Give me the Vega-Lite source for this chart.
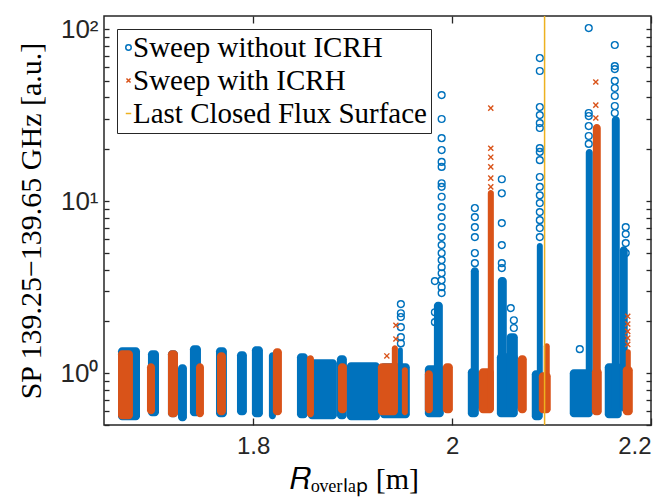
{
  "$schema": "https://vega.github.io/schema/vega-lite/v6.json",
  "width": 547,
  "height": 409,
  "autosize": "none",
  "padding": {"left": 104, "top": 16, "right": 17, "bottom": 72},
  "background": "white",
  "config": {
    "view": {"stroke": "#262626", "strokeWidth": 1.5},
    "axis": {"domain": false, "grid": false, "labelFont": "Liberation Sans", "labelColor": "#262626", "titleFont": "Liberation Serif", "titleFontWeight": "normal", "titleColor": "#000000", "ticks": true, "tickColor": "#262626", "tickOpacity": 1, "tickWidth": 1.3},
    "legend": {"orient": "top-left", "offset": 13, "padding": 4, "fillColor": "white", "strokeColor": "#262626", "labelFont": "Liberation Serif", "labelFontSize": 29, "labelColor": "#000000", "labelLimit": 500, "symbolSize": 30, "symbolStrokeWidth": 1.5, "rowPadding": 3, "labelOffset": -10, "symbolOffset": -7}
  },
  "datasets": {
    "bodies": [
      {"s": "Sweep without ICRH", "x0": 1.6641, "x1": 1.6862, "y0": 0.533, "y1": 1.416},
      {"s": "Sweep without ICRH", "x0": 1.6942, "x1": 1.7053, "y0": 0.562, "y1": 1.36},
      {"s": "Sweep without ICRH", "x0": 1.7143, "x1": 1.7244, "y0": 0.555, "y1": 1.36},
      {"s": "Sweep without ICRH", "x0": 1.7244, "x1": 1.7334, "y0": 0.526, "y1": 1.128},
      {"s": "Sweep without ICRH", "x0": 1.7364, "x1": 1.7475, "y0": 0.562, "y1": 1.455},
      {"s": "Sweep without ICRH", "x0": 1.7626, "x1": 1.7736, "y0": 0.555, "y1": 1.416},
      {"s": "Sweep without ICRH", "x0": 1.7837, "x1": 1.7937, "y0": 0.57, "y1": 1.342},
      {"s": "Sweep without ICRH", "x0": 1.7987, "x1": 1.8098, "y0": 0.555, "y1": 1.435},
      {"s": "Sweep without ICRH", "x0": 1.8158, "x1": 1.8229, "y0": 0.54, "y1": 1.325},
      {"s": "Sweep without ICRH", "x0": 1.844, "x1": 1.855, "y0": 0.547, "y1": 1.307},
      {"s": "Sweep without ICRH", "x0": 1.855, "x1": 1.8842, "y0": 0.54, "y1": 1.206},
      {"s": "Sweep without ICRH", "x0": 1.8842, "x1": 1.8942, "y0": 0.54, "y1": 1.273},
      {"s": "Sweep without ICRH", "x0": 1.8942, "x1": 1.9274, "y0": 0.533, "y1": 1.159},
      {"s": "Sweep without ICRH", "x0": 1.9274, "x1": 1.9575, "y0": 0.547, "y1": 1.143},
      {"s": "Sweep without ICRH", "x0": 1.9455, "x1": 1.9505, "y0": 0.6, "y1": 1.416},
      {"s": "Sweep without ICRH", "x0": 1.9726, "x1": 1.9917, "y0": 0.555, "y1": 1.113},
      {"s": "Sweep without ICRH", "x0": 1.9817, "x1": 1.9907, "y0": 0.6, "y1": 2.6},
      {"s": "Sweep without ICRH", "x0": 2.0158, "x1": 2.0269, "y0": 0.555, "y1": 1.069},
      {"s": "Sweep without ICRH", "x0": 2.0188, "x1": 2.0269, "y0": 0.6, "y1": 4.13},
      {"s": "Sweep without ICRH", "x0": 2.045, "x1": 2.0661, "y0": 0.555, "y1": 1.307},
      {"s": "Sweep without ICRH", "x0": 2.046, "x1": 2.055, "y0": 0.6, "y1": 3.62},
      {"s": "Sweep without ICRH", "x0": 2.055, "x1": 2.0661, "y0": 0.6, "y1": 1.708},
      {"s": "Sweep without ICRH", "x0": 2.0801, "x1": 2.0912, "y0": 0.533, "y1": 1.041},
      {"s": "Sweep without ICRH", "x0": 2.0852, "x1": 2.0912, "y0": 0.6, "y1": 5.7},
      {"s": "Sweep without ICRH", "x0": 2.1183, "x1": 2.1415, "y0": 0.555, "y1": 1.055},
      {"s": "Sweep without ICRH", "x0": 2.1344, "x1": 2.1415, "y0": 0.6, "y1": 20.05},
      {"s": "Sweep without ICRH", "x0": 2.1535, "x1": 2.1706, "y0": 0.547, "y1": 1.143},
      {"s": "Sweep without ICRH", "x0": 2.1606, "x1": 2.1686, "y0": 0.6, "y1": 31.2},
      {"s": "Sweep without ICRH", "x0": 2.1686, "x1": 2.1766, "y0": 0.6, "y1": 5.47},
      {"s": "Sweep with ICRH", "x0": 1.6641, "x1": 1.6791, "y0": 0.54, "y1": 1.36},
      {"s": "Sweep with ICRH", "x0": 1.6932, "x1": 1.7013, "y0": 0.578, "y1": 1.143},
      {"s": "Sweep with ICRH", "x0": 1.7143, "x1": 1.7244, "y0": 0.555, "y1": 1.36},
      {"s": "Sweep with ICRH", "x0": 1.7425, "x1": 1.7505, "y0": 0.555, "y1": 1.143},
      {"s": "Sweep with ICRH", "x0": 1.7636, "x1": 1.7726, "y0": 0.57, "y1": 1.325},
      {"s": "Sweep with ICRH", "x0": 1.8198, "x1": 1.8289, "y0": 0.57, "y1": 1.397},
      {"s": "Sweep with ICRH", "x0": 1.854, "x1": 1.8611, "y0": 0.555, "y1": 1.273},
      {"s": "Sweep with ICRH", "x0": 1.8852, "x1": 1.8942, "y0": 0.585, "y1": 1.143},
      {"s": "Sweep with ICRH", "x0": 1.9254, "x1": 1.9455, "y0": 0.57, "y1": 1.143},
      {"s": "Sweep with ICRH", "x0": 1.9394, "x1": 1.9455, "y0": 0.6, "y1": 1.455},
      {"s": "Sweep with ICRH", "x0": 1.9495, "x1": 1.9555, "y0": 0.57, "y1": 1.084},
      {"s": "Sweep with ICRH", "x0": 1.9726, "x1": 1.9807, "y0": 0.585, "y1": 1.041},
      {"s": "Sweep with ICRH", "x0": 1.9907, "x1": 2.0008, "y0": 0.585, "y1": 1.143},
      {"s": "Sweep with ICRH", "x0": 2.0269, "x1": 2.042, "y0": 0.585, "y1": 1.069},
      {"s": "Sweep with ICRH", "x0": 2.0359, "x1": 2.042, "y0": 0.6, "y1": 11.59},
      {"s": "Sweep with ICRH", "x0": 2.0661, "x1": 2.0751, "y0": 0.585, "y1": 1.273},
      {"s": "Sweep with ICRH", "x0": 2.0872, "x1": 2.0992, "y0": 0.585, "y1": 1.013},
      {"s": "Sweep with ICRH", "x0": 2.0922, "x1": 2.0982, "y0": 0.6, "y1": 1.494},
      {"s": "Sweep with ICRH", "x0": 2.1405, "x1": 2.1505, "y0": 0.57, "y1": 1.069},
      {"s": "Sweep with ICRH", "x0": 2.1415, "x1": 2.1495, "y0": 0.6, "y1": 28.04},
      {"s": "Sweep with ICRH", "x0": 2.1716, "x1": 2.1817, "y0": 0.57, "y1": 1.098},
      {"s": "Sweep with ICRH", "x0": 2.1746, "x1": 2.1797, "y0": 0.6, "y1": 1.379}
    ],
    "pts": [
      {"s": "Sweep without ICRH", "x": 1.9485, "y": 2.52},
      {"s": "Sweep without ICRH", "x": 1.9485, "y": 2.23},
      {"s": "Sweep without ICRH", "x": 1.9485, "y": 2.12},
      {"s": "Sweep without ICRH", "x": 1.9485, "y": 1.85},
      {"s": "Sweep without ICRH", "x": 1.9485, "y": 1.62},
      {"s": "Sweep without ICRH", "x": 1.9485, "y": 1.49},
      {"s": "Sweep without ICRH", "x": 1.9827, "y": 3.43},
      {"s": "Sweep without ICRH", "x": 1.9827, "y": 2.26},
      {"s": "Sweep without ICRH", "x": 1.9827, "y": 1.98},
      {"s": "Sweep without ICRH", "x": 1.9895, "y": 41.3},
      {"s": "Sweep without ICRH", "x": 1.9895, "y": 30.0},
      {"s": "Sweep without ICRH", "x": 1.9895, "y": 23.2},
      {"s": "Sweep without ICRH", "x": 1.9895, "y": 19.8},
      {"s": "Sweep without ICRH", "x": 1.9895, "y": 16.9},
      {"s": "Sweep without ICRH", "x": 1.9895, "y": 15.8},
      {"s": "Sweep without ICRH", "x": 1.9895, "y": 12.7},
      {"s": "Sweep without ICRH", "x": 1.9895, "y": 12.1},
      {"s": "Sweep without ICRH", "x": 1.9895, "y": 10.6},
      {"s": "Sweep without ICRH", "x": 1.9895, "y": 9.23},
      {"s": "Sweep without ICRH", "x": 1.9895, "y": 8.07},
      {"s": "Sweep without ICRH", "x": 1.9895, "y": 7.06},
      {"s": "Sweep without ICRH", "x": 1.9895, "y": 6.18},
      {"s": "Sweep without ICRH", "x": 1.9895, "y": 5.55},
      {"s": "Sweep without ICRH", "x": 1.9895, "y": 4.99},
      {"s": "Sweep without ICRH", "x": 1.9895, "y": 4.54},
      {"s": "Sweep without ICRH", "x": 1.9895, "y": 4.13},
      {"s": "Sweep without ICRH", "x": 1.9895, "y": 3.81},
      {"s": "Sweep without ICRH", "x": 1.9895, "y": 3.47},
      {"s": "Sweep without ICRH", "x": 1.9895, "y": 3.16},
      {"s": "Sweep without ICRH", "x": 1.9895, "y": 2.92},
      {"s": "Sweep without ICRH", "x": 2.0229, "y": 9.11},
      {"s": "Sweep without ICRH", "x": 2.0229, "y": 8.07},
      {"s": "Sweep without ICRH", "x": 2.0229, "y": 7.06},
      {"s": "Sweep without ICRH", "x": 2.0229, "y": 6.18},
      {"s": "Sweep without ICRH", "x": 2.0229, "y": 4.99},
      {"s": "Sweep without ICRH", "x": 2.0229, "y": 4.36},
      {"s": "Sweep without ICRH", "x": 2.05, "y": 13.4},
      {"s": "Sweep without ICRH", "x": 2.05, "y": 11.1},
      {"s": "Sweep without ICRH", "x": 2.05, "y": 7.45},
      {"s": "Sweep without ICRH", "x": 2.05, "y": 5.55},
      {"s": "Sweep without ICRH", "x": 2.05, "y": 4.36},
      {"s": "Sweep without ICRH", "x": 2.05, "y": 4.08},
      {"s": "Sweep without ICRH", "x": 2.059, "y": 2.39},
      {"s": "Sweep without ICRH", "x": 2.0621, "y": 2.03},
      {"s": "Sweep without ICRH", "x": 2.0621, "y": 1.83},
      {"s": "Sweep without ICRH", "x": 2.0882, "y": 67.8},
      {"s": "Sweep without ICRH", "x": 2.0882, "y": 57.0},
      {"s": "Sweep without ICRH", "x": 2.0882, "y": 35.2},
      {"s": "Sweep without ICRH", "x": 2.0882, "y": 31.6},
      {"s": "Sweep without ICRH", "x": 2.0882, "y": 28.4},
      {"s": "Sweep without ICRH", "x": 2.0882, "y": 26.6},
      {"s": "Sweep without ICRH", "x": 2.0882, "y": 20.3},
      {"s": "Sweep without ICRH", "x": 2.0882, "y": 19.3},
      {"s": "Sweep without ICRH", "x": 2.0882, "y": 17.3},
      {"s": "Sweep without ICRH", "x": 2.0882, "y": 13.8},
      {"s": "Sweep without ICRH", "x": 2.0882, "y": 12.1},
      {"s": "Sweep without ICRH", "x": 2.0882, "y": 10.8},
      {"s": "Sweep without ICRH", "x": 2.0882, "y": 9.74},
      {"s": "Sweep without ICRH", "x": 2.0882, "y": 8.63},
      {"s": "Sweep without ICRH", "x": 2.0882, "y": 7.75},
      {"s": "Sweep without ICRH", "x": 2.0882, "y": 6.97},
      {"s": "Sweep without ICRH", "x": 2.0882, "y": 6.18},
      {"s": "Sweep without ICRH", "x": 2.1284, "y": 1.379},
      {"s": "Sweep without ICRH", "x": 2.1374, "y": 101.3},
      {"s": "Sweep without ICRH", "x": 2.1374, "y": 32.5},
      {"s": "Sweep without ICRH", "x": 2.1374, "y": 31.2},
      {"s": "Sweep without ICRH", "x": 2.1374, "y": 27.3},
      {"s": "Sweep without ICRH", "x": 2.1374, "y": 23.9},
      {"s": "Sweep without ICRH", "x": 2.1374, "y": 21.5},
      {"s": "Sweep without ICRH", "x": 2.1636, "y": 80.7},
      {"s": "Sweep without ICRH", "x": 2.1636, "y": 60.9},
      {"s": "Sweep without ICRH", "x": 2.1636, "y": 58.5},
      {"s": "Sweep without ICRH", "x": 2.1636, "y": 49.9},
      {"s": "Sweep without ICRH", "x": 2.1636, "y": 45.4},
      {"s": "Sweep without ICRH", "x": 2.1636, "y": 40.8},
      {"s": "Sweep without ICRH", "x": 2.1636, "y": 35.7},
      {"s": "Sweep without ICRH", "x": 2.1636, "y": 32.5},
      {"s": "Sweep without ICRH", "x": 2.1746, "y": 7.06},
      {"s": "Sweep without ICRH", "x": 2.1746, "y": 6.43},
      {"s": "Sweep without ICRH", "x": 2.1746, "y": 5.7},
      {"s": "Sweep without ICRH", "x": 2.1746, "y": 4.99},
      {"s": "Sweep with ICRH", "x": 1.9435, "y": 1.9},
      {"s": "Sweep with ICRH", "x": 1.9435, "y": 1.58},
      {"s": "Sweep with ICRH", "x": 1.9344, "y": 1.26},
      {"s": "Sweep with ICRH", "x": 2.0389, "y": 34.7},
      {"s": "Sweep with ICRH", "x": 2.0389, "y": 20.3},
      {"s": "Sweep with ICRH", "x": 2.0389, "y": 18.0},
      {"s": "Sweep with ICRH", "x": 2.0389, "y": 15.8},
      {"s": "Sweep with ICRH", "x": 2.0389, "y": 13.6},
      {"s": "Sweep with ICRH", "x": 2.0389, "y": 12.1},
      {"s": "Sweep with ICRH", "x": 2.1445, "y": 49.2},
      {"s": "Sweep with ICRH", "x": 2.1445, "y": 36.1},
      {"s": "Sweep with ICRH", "x": 2.1445, "y": 30.4},
      {"s": "Sweep with ICRH", "x": 2.1766, "y": 2.14},
      {"s": "Sweep with ICRH", "x": 2.1766, "y": 1.93},
      {"s": "Sweep with ICRH", "x": 2.1766, "y": 1.75},
      {"s": "Sweep with ICRH", "x": 2.1766, "y": 1.6},
      {"s": "Sweep with ICRH", "x": 2.1766, "y": 1.47}
    ],
    "lcfs": [
      {"s": "Last Closed Flux Surface", "x": 2.093}
    ]
  },
  "layer": [
    {
      "data": {"name": "bodies"},
      "transform": [{"filter": "datum.s === 'Sweep without ICRH'"}],
      "mark": {"type": "rect", "cornerRadius": 4, "color": "#0072BD"},
      "encoding": {
        "x": {"field": "x0", "type": "quantitative", "scale": {"domain": [1.65, 2.2], "nice": false, "zero": false},
              "axis": {"orient": "bottom", "values": [1.8, 2.0, 2.2], "format": ".1~f", "zindex": 1, "tickSize": 7, "offset": -7, "labelPadding": 9, "labelFontSize": 24, "title": "𝑅ₒᵥₑᵣₗₐₚ [m]", "titleFontSize": 30, "titlePadding": 6, "titleX": 250}},
        "x2": {"field": "x1"},
        "y": {"field": "y0", "type": "quantitative", "scale": {"type": "log", "domain": [0.5, 119], "nice": false},
              "axis": {"orient": "left", "values": [0.5, 0.6, 0.7, 0.8, 0.9, 1, 2, 3, 4, 5, 6, 7, 8, 9, 10, 20, 30, 40, 50, 60, 70, 80, 90, 100],
                       "labelExpr": "abs(datum.value-1)<1e-9 ? '10⁰' : abs(datum.value-10)<1e-9 ? '10¹' : abs(datum.value-100)<1e-9 ? '10²' : ''",
                       "labelOverlap": false, "labelBound": false, "labelFlush": false, "labelFontSize": 26,
                       "zindex": 1, "tickSize": 5, "offset": -5, "labelPadding": 6,
                       "title": "SP 139.25−139.65 GHz [a.u.]", "titleFontSize": 30, "titlePadding": 14}},
        "y2": {"field": "y1"}
      }
    },
    {
      "data": {"name": "bodies"},
      "transform": [{"filter": "datum.s === 'Sweep with ICRH'"}],
      "mark": {"type": "rect", "cornerRadius": 4, "color": "#D95319"},
      "encoding": {
        "x": {"field": "x0", "type": "quantitative", "axis": null},
        "x2": {"field": "x1"},
        "y": {"field": "y0", "type": "quantitative", "axis": null},
        "y2": {"field": "y1"}
      }
    },
    {
      "data": {"name": "pts"},
      "mark": {"type": "point", "filled": false, "strokeWidth": 1.4, "opacity": 1, "size": 46},
      "encoding": {
        "x": {"field": "x", "type": "quantitative", "axis": {"orient": "top", "values": [1.8, 2.0, 2.2], "labels": false, "zindex": 1, "tickSize": 7, "offset": -7, "title": null}},
        "y": {"field": "y", "type": "quantitative", "axis": {"orient": "right", "values": [0.5, 0.6, 0.7, 0.8, 0.9, 1, 2, 3, 4, 5, 6, 7, 8, 9, 10, 20, 30, 40, 50, 60, 70, 80, 90, 100], "labels": false, "zindex": 1, "tickSize": 5, "offset": -5, "title": null}},
        "color": {"field": "s", "type": "nominal",
                  "scale": {"domain": ["Sweep without ICRH", "Sweep with ICRH", "Last Closed Flux Surface"], "range": ["#0072BD", "#D95319", "#EDB120"]},
                  "legend": {"title": null}},
        "shape": {"field": "s", "type": "nominal",
                  "scale": {"domain": ["Sweep without ICRH", "Sweep with ICRH", "Last Closed Flux Surface"], "range": ["circle", "M-0.75,-0.75L0.75,0.75M-0.75,0.75L0.75,-0.75", "stroke"]},
                  "legend": {"title": null}}
      }
    },
    {
      "data": {"name": "lcfs"},
      "mark": {"type": "rule", "strokeWidth": 1.5},
      "encoding": {
        "x": {"field": "x", "type": "quantitative", "axis": null},
        "color": {"field": "s", "type": "nominal", "legend": {"title": null}}
      }
    }
  ],
  "resolve": {"axis": {"x": "independent", "y": "independent"}}
}
